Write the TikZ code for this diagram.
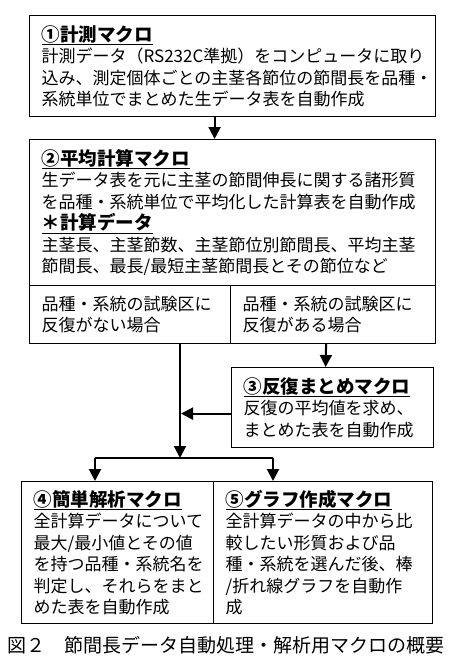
\documentclass[tikz,border=0pt]{standalone}
\usepackage{fontspec}
\setmainfont{Noto Sans CJK JP}
\usetikzlibrary{arrows.meta,positioning}
\newcommand{\mtitle}[1]{{\bfseries\fontsize{18.5}{22}\selectfont\underline{#1}}}

\begin{document}
\begin{tikzpicture}[x=1pt,y=-1pt,
      box/.style={draw,line width=1.2pt,anchor=north west,align=left,
        inner xsep=12pt,inner ysep=0pt,font=\fontsize{17}{21.5}\selectfont},
      line/.style={line width=2pt},
      arr/.style={line width=2pt,-{Triangle[length=12pt,width=12pt]}}]
      \useasboundingbox (0,0) rectangle (450,662);
      \node[box,text width=382pt,minimum height=101pt] (m1) at (29,15)
        {\mtitle{①計測マクロ}\\
         計測データ（RS232C準拠）をコンピュータに取り\\
         込み、測定個体ごとの主茎各節位の節間長を品種・\\
         系統単位でまとめた生データ表を自動作成};
      \node[box,text width=382pt,minimum height=146pt] (m2) at (29,139)
        {\mtitle{②平均計算マクロ}\\
         生データ表を元に主茎の節間伸長に関する諸形質\\
         を品種・系統単位で平均化した計算表を自動作成\\
         \mtitle{＊計算データ}\\
         主茎長、主茎節数、主茎節位別節間長、平均主茎\\
         節間長、最長/最短主茎節間長とその節位など};
      \node[box,text width=177pt,minimum height=58pt] (c1) at (29,285)
        {品種・系統の試験区に\\反復がない場合};
      \node[box,text width=181pt,minimum height=58pt] (c2) at (230,285)
        {品種・系統の試験区に\\反復がある場合};
      \node[box,text width=178pt,minimum height=80pt] (m3) at (231,367)
        {\mtitle{③反復まとめマクロ}\\
         反復の平均値を求め、\\
         まとめた表を自動作成};
      \node[box,text width=168pt,minimum height=142pt] (m4) at (21,481)
        {\mtitle{④簡単解析マクロ}\\
         全計算データについて\\
         最大/最小値とその値\\
         を持つ品種・系統名を\\
         判定し、それらをまと\\
         めた表を自動作成};
      \node[box,text width=195pt,minimum height=142pt] (m5) at (213,481)
        {\mtitle{⑤グラフ作成マクロ}\\
         全計算データの中から比\\
         較したい形質および品\\
         種・系統を選んだ後、棒\\
         /折れ線グラフを自動作\\
         成};
      \node[font=\fontsize{19}{22}\selectfont] (cap) at (226,645)
        {図２　節間長データ自動処理・解析用マクロの概要};
      % connectors
      \coordinate (j) at (180,458);
      \coordinate (l) at (95,458);
      \coordinate (r) at (273,458);
      \draw[arr] ([xshift=-18pt]m1.south) -- ([xshift=-18pt]m2.north);
      \draw[arr] (c1.south -| j) -- (j);
      \draw[arr] ([xshift=-7pt]c2.south) -- ([xshift=-7pt]m3.north);
      \draw[arr] ([yshift=-6pt]m3.west) -- ([yshift=-6pt,xshift=1pt]m3.west -| j);
      \draw[line] (l) -- (r);
      \draw[arr] (l) -- (l |- m4.north);
      \draw[arr] (r) -- (r |- m5.north);
    \end{tikzpicture}
\end{document}
